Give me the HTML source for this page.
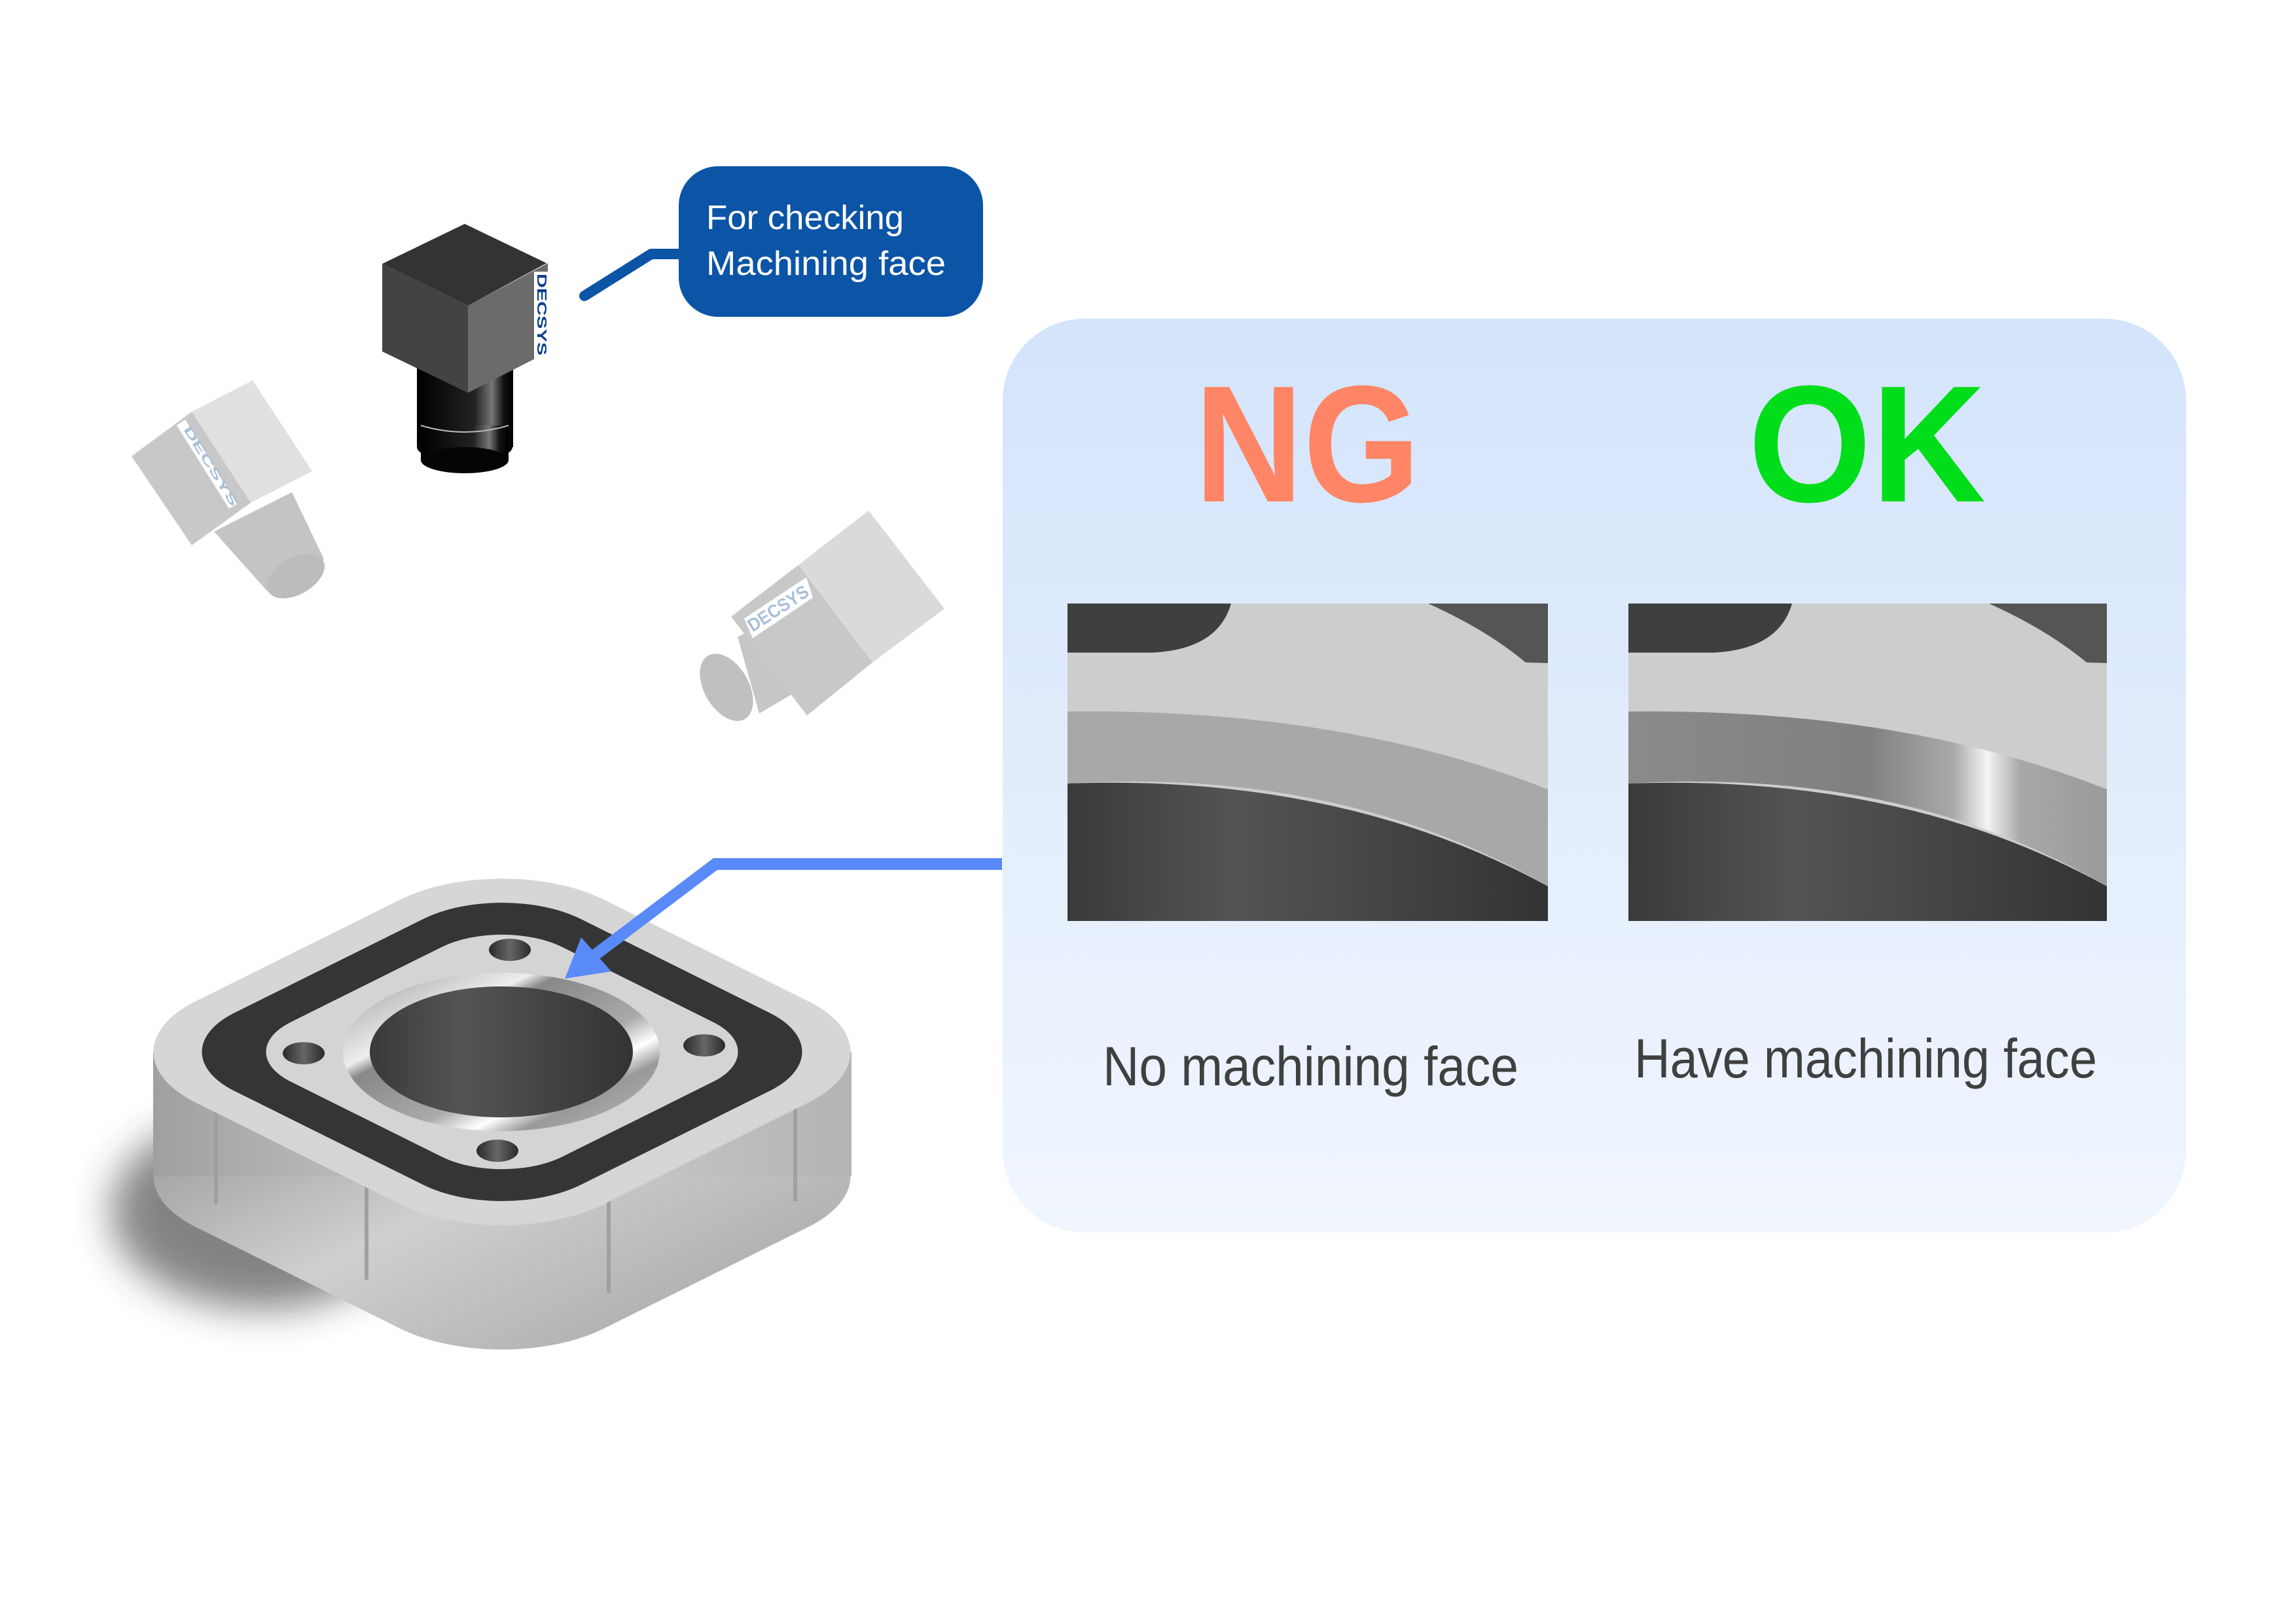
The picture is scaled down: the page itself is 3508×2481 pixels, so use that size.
<!DOCTYPE html>
<html><head><meta charset="utf-8"><style>
html,body{margin:0;padding:0;background:#fff;}
svg{display:block;}
</style></head><body>
<svg width="3508" height="2481" viewBox="0 0 3508 2481" xmlns="http://www.w3.org/2000/svg">
<defs>
<linearGradient id="panel" x1="0" y1="0" x2="0" y2="1">
<stop offset="0" stop-color="#d3e4fb"/><stop offset="1" stop-color="#f1f6fe"/>
</linearGradient>
<linearGradient id="dark" x1="0" y1="0" x2="1" y2="0">
<stop offset="0" stop-color="#3a3a3a"/><stop offset="0.35" stop-color="#545454"/><stop offset="1" stop-color="#333"/>
</linearGradient>
<linearGradient id="lens" x1="0" y1="0" x2="1" y2="0">
<stop offset="0" stop-color="#000"/><stop offset="0.6" stop-color="#222"/><stop offset="0.78" stop-color="#777"/><stop offset="0.9" stop-color="#111"/><stop offset="1" stop-color="#000"/>
</linearGradient>
<linearGradient id="okband" x1="0" y1="0" x2="1" y2="0">
<stop offset="0" stop-color="#8a8a8a"/><stop offset="0.5" stop-color="#808080"/><stop offset="0.68" stop-color="#aaa"/><stop offset="0.75" stop-color="#f4f4f4"/><stop offset="0.82" stop-color="#a8a8a8"/><stop offset="1" stop-color="#9a9a9a"/>
</linearGradient>
<linearGradient id="ring" x1="0" y1="0" x2="1" y2="1">
<stop offset="0" stop-color="#999"/><stop offset="0.3" stop-color="#eee"/><stop offset="0.35" stop-color="#888"/><stop offset="0.6" stop-color="#aaa"/><stop offset="0.7" stop-color="#fff"/><stop offset="0.78" stop-color="#999"/><stop offset="1" stop-color="#bbb"/>
</linearGradient>
<linearGradient id="side" x1="0" y1="0" x2="1" y2="0">
<stop offset="0" stop-color="#a0a0a0"/><stop offset="0.5" stop-color="#cfcfcf"/><stop offset="1" stop-color="#b4b4b4"/>
</linearGradient>
<linearGradient id="hole" x1="0" y1="0" x2="1" y2="0">
<stop offset="0" stop-color="#2a2a2a"/><stop offset="0.5" stop-color="#666"/><stop offset="1" stop-color="#2a2a2a"/>
</linearGradient>
<filter id="blur" x="-50%" y="-50%" width="200%" height="200%"><feGaussianBlur stdDeviation="30"/></filter>
</defs>

<!-- Callout -->
<path d="M1045 388 L995 388 L893 452" fill="none" stroke="#0b54a6" stroke-width="16" stroke-linecap="round" stroke-linejoin="round"/>
<rect x="1037" y="254" width="465" height="230" rx="60" fill="#0b54a6"/>
<text x="1079" y="350" font-family="Liberation Sans, sans-serif" font-size="52" fill="#fff" textLength="302" lengthAdjust="spacingAndGlyphs">For checking</text>
<text x="1079" y="420" font-family="Liberation Sans, sans-serif" font-size="52" fill="#fff" textLength="366" lengthAdjust="spacingAndGlyphs">Machining face</text>

<!-- Dark camera -->
<rect x="637" y="553" width="147" height="130" fill="url(#lens)"/>
<ellipse cx="710" cy="683" rx="73" ry="22" fill="#0a0a0a"/>
<rect x="643" y="650" width="134" height="53" fill="url(#lens)"/>
<ellipse cx="710" cy="703" rx="67" ry="20" fill="#050505"/>
<path d="M643 650 Q710 670 777 650" fill="none" stroke="#bbb" stroke-width="2"/>
<polygon points="584,403 715,467 715,600 584,537" fill="#434343"/>
<polygon points="715,467 837,402 837,538 715,600" fill="#6b6b6b"/>
<polygon points="710,342 835,402 715,467 584,403" fill="#333"/>
<rect x="816" y="415" width="21" height="133" fill="#fff"/>
<text transform="translate(821,418) rotate(90)" font-family="Liberation Sans, sans-serif" font-weight="bold" font-size="20" fill="#0b3f8c" textLength="125" lengthAdjust="spacingAndGlyphs">DECSYS</text>

<!-- Light camera 1 -->
<polygon points="327,812 446,752 495,854 410,905" fill="#c4c4c4"/>
<ellipse cx="452" cy="880" rx="48" ry="28" transform="rotate(-30 452 880)" fill="#bcbcbc"/>
<polygon points="201,697 293,629 383,768 293,833" fill="#c8c8c8"/>
<polygon points="293,629 386,581 477,720 383,768" fill="#e0e0e0"/>
<polygon points="270,650 283,641 362,770 350,777" fill="#fff"/>
<text transform="translate(280,656) rotate(58)" font-family="Liberation Sans, sans-serif" font-weight="bold" font-size="18" fill="#a9bfd9" textLength="140" lengthAdjust="spacingAndGlyphs">DECSYS</text>

<!-- Light camera 2 -->
<polygon points="1127,973 1210,930 1245,1040 1160,1090" fill="#c6c6c6"/>
<ellipse cx="1110" cy="1050" rx="34" ry="56" transform="rotate(-30 1110 1050)" fill="#c0c0c0"/>
<polygon points="1117,942 1220,863 1333,1012 1233,1093" fill="#c8c8c8"/>
<polygon points="1220,863 1327,780 1443,930 1333,1012" fill="#dadada"/>
<polygon points="1137,945 1232,882 1242,913 1150,975" fill="#fff"/>
<text transform="translate(1150,966) rotate(-33)" font-family="Liberation Sans, sans-serif" font-weight="bold" font-size="28" fill="#a9bfd9" textLength="105" lengthAdjust="spacingAndGlyphs">DECSYS</text>

<!-- Panel -->
<rect x="1532" y="487" width="1808" height="1396" rx="125" fill="url(#panel)"/>
<text x="1825" y="766" font-family="Liberation Sans, sans-serif" font-weight="bold" font-size="254" fill="#ff8566" textLength="345" lengthAdjust="spacingAndGlyphs">NG</text>
<text x="2671" y="766" font-family="Liberation Sans, sans-serif" font-weight="bold" font-size="254" fill="#00dd1a" textLength="363" lengthAdjust="spacingAndGlyphs">OK</text>

<!-- NG image -->
<g transform="translate(1631,922)">
<rect width="734" height="485" fill="#cdcdcd"/>
<path d="M0 0 L250 0 Q230 70 130 75 L0 75 Z" fill="#3f3f3f"/>
<path d="M551 0 L734 0 L734 91 L700 90 Q640 40 551 0 Z" fill="#555"/>
<path d="M0 165 Q420 160 734 284 L734 432 Q420 250 0 275 Z" fill="#a8a8a8"/>
<path d="M0 275 Q420 260 734 432 L734 485 L0 485 Z" fill="url(#dark)"/>
</g>
<!-- OK image -->
<g transform="translate(2488,922)">
<rect width="731" height="485" fill="#cdcdcd"/>
<path d="M0 0 L250 0 Q230 70 130 75 L0 75 Z" fill="#3f3f3f"/>
<path d="M551 0 L731 0 L731 91 L700 90 Q640 40 551 0 Z" fill="#555"/>
<path d="M0 165 Q420 160 731 284 L731 432 Q420 250 0 275 Z" fill="url(#okband)"/>
<path d="M0 275 Q420 260 731 432 L731 485 L0 485 Z" fill="url(#dark)"/>
</g>
<text x="1685" y="1658" font-family="Liberation Sans, sans-serif" font-size="84" fill="#404040" textLength="635" lengthAdjust="spacingAndGlyphs">No machining face</text>
<text x="2497" y="1646" font-family="Liberation Sans, sans-serif" font-size="84" fill="#404040" textLength="707" lengthAdjust="spacingAndGlyphs">Have machining face</text>

<!-- Part -->
<ellipse cx="400" cy="1850" rx="230" ry="150" fill="#333" opacity="0.6" filter="url(#blur)"/>
<g transform="translate(767,1797) scale(1,0.497) rotate(45)"><rect x="-441" y="-441" width="882" height="882" rx="220" fill="url(#side)"/></g>
<rect x="234" y="1607" width="1067" height="190" fill="url(#side)"/>
<g stroke="#a0a0a0" stroke-width="6">
<line x1="330" y1="1690" x2="330" y2="1840"/><line x1="560" y1="1775" x2="560" y2="1955"/><line x1="930" y1="1795" x2="930" y2="1975"/><line x1="1215" y1="1660" x2="1215" y2="1835"/>
</g>
<g transform="translate(767,1607) scale(1,0.497) rotate(45)"><rect x="-441" y="-441" width="882" height="882" rx="220" fill="#d6d6d6"/></g>
<g transform="translate(767,1607) scale(1,0.497) rotate(45)"><rect x="-374" y="-374" width="748" height="748" rx="170" fill="#353535"/></g>
<g transform="translate(767,1607) scale(1,0.497) rotate(45)"><rect x="-293" y="-293" width="586" height="586" rx="130" fill="#d4d4d4"/></g>
<ellipse cx="766" cy="1607" rx="242" ry="121" fill="url(#ring)"/>
<ellipse cx="766" cy="1607" rx="201" ry="100" fill="url(#dark)"/>
<ellipse cx="779" cy="1451" rx="32" ry="17" fill="url(#hole)"/>
<ellipse cx="464" cy="1609" rx="32" ry="17" fill="url(#hole)"/>
<ellipse cx="1076" cy="1597" rx="32" ry="17" fill="url(#hole)"/>
<ellipse cx="760" cy="1758" rx="32" ry="17" fill="url(#hole)"/>

<!-- Arrow -->
<path d="M1531 1320 L1093 1320 L905 1462" fill="none" stroke="#5a8af8" stroke-width="18" stroke-linejoin="miter"/>
<polygon points="863,1495 888,1432 934,1484" fill="#5a8af8"/>
</svg>
</body></html>
